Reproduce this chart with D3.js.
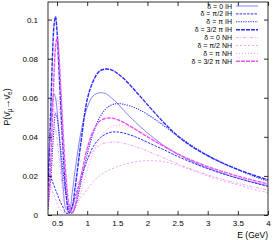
<!DOCTYPE html>
<html>
<head>
<meta charset="utf-8">
<script src="https://cdn.jsdelivr.net/npm/d3@7"></script>
<style>
  body { margin: 0; background: #fff; }
  text { font-family: "Liberation Sans", Arial, sans-serif; }
</style>
</head>
<body>
<svg id="canvas"></svg>
<script>
// Energy grid (GeV)
var energy = [0.35, 0.4, 0.425, 0.45, 0.475, 0.5, 0.525, 0.55, 0.6, 0.65, 0.7, 0.75, 0.8, 0.9, 1.0,
  1.1, 1.2, 1.3, 1.4, 1.5, 1.6, 1.8, 2.0, 2.25, 2.5, 2.75, 3.0, 3.25, 3.5, 3.75, 4.0];

// Probabilities
var ih0 = [0.020, 0.048, 0.057, 0.062, 0.060, 0.054, 0.045, 0.035, 0.015, 0.003, 0.002, 0.011, 0.023, 0.043, 0.055,
  0.0610, 0.0625, 0.0622, 0.0600, 0.0572, 0.0538, 0.0475, 0.0420, 0.0360, 0.0312, 0.0272, 0.0240, 0.0212, 0.0188, 0.0168, 0.0150];
var ihHalfPi = [0.022, 0.019, 0.017, 0.015, 0.013, 0.011, 0.009, 0.007, 0.004, 0.001, 0.001, 0.004, 0.009, 0.019, 0.028,
  0.035, 0.039, 0.0413, 0.0424, 0.0425, 0.0420, 0.0400, 0.0372, 0.0337, 0.0300, 0.0267, 0.0237, 0.0211, 0.0188, 0.0166, 0.0146];
var ihPi = [0.003, 0.020, 0.033, 0.045, 0.052, 0.050, 0.044, 0.037, 0.022, 0.010, 0.003, 0.001, 0.004, 0.017, 0.031,
  0.042, 0.0495, 0.0540, 0.0563, 0.0570, 0.0567, 0.0548, 0.0515, 0.0462, 0.0405, 0.0352, 0.0305, 0.0266, 0.0232, 0.0200, 0.0173];
var ih3HalfPi = [0.012, 0.058, 0.082, 0.097, 0.1015, 0.094, 0.079, 0.063, 0.033, 0.011, 0.001, 0.004, 0.014, 0.038, 0.059,
  0.0685, 0.0735, 0.0747, 0.0743, 0.0725, 0.0700, 0.0635, 0.0565, 0.0480, 0.0405, 0.0348, 0.0303, 0.0265, 0.0233, 0.0205, 0.0180];
var nh0 = [0.028, 0.045, 0.048, 0.047, 0.044, 0.039, 0.032, 0.025, 0.011, 0.003, 0.002, 0.006, 0.012, 0.021, 0.028,
  0.0328, 0.0355, 0.0368, 0.0373, 0.0373, 0.0367, 0.0350, 0.0327, 0.0295, 0.0262, 0.0232, 0.0205, 0.0182, 0.0162, 0.0144, 0.0128];
var nhHalfPi = [0.020, 0.015, 0.012, 0.010, 0.008, 0.006, 0.004, 0.003, 0.0015, 0.001, 0.0015, 0.003, 0.005, 0.009, 0.013,
  0.017, 0.020, 0.022, 0.0235, 0.0248, 0.0258, 0.0272, 0.0278, 0.0274, 0.0255, 0.0228, 0.0200, 0.0175, 0.0154, 0.0132, 0.0114];
var nhPi = [0.008, 0.030, 0.042, 0.052, 0.058, 0.060, 0.057, 0.051, 0.033, 0.015, 0.004, 0.001, 0.003, 0.012, 0.023,
  0.032, 0.0390, 0.0430, 0.0452, 0.0460, 0.0458, 0.0438, 0.0405, 0.0357, 0.0312, 0.0275, 0.0243, 0.0216, 0.0192, 0.0172, 0.0154];
var nh3HalfPi = [0.004, 0.030, 0.052, 0.072, 0.086, 0.0905, 0.085, 0.072, 0.043, 0.019, 0.005, 0.001, 0.005, 0.020, 0.034,
  0.0430, 0.0478, 0.0494, 0.0496, 0.0488, 0.0474, 0.0438, 0.0400, 0.0355, 0.0313, 0.0278, 0.0248, 0.0222, 0.0199, 0.0178, 0.0160];

var seriesNames = ['δ = 0 IH', 'δ = π/2 IH', 'δ = π IH', 'δ = 3/2 π IH',
  'δ = 0 NH', 'δ = π/2 NH', 'δ = π NH', 'δ = 3/2 π NH'];
var seriesValues = [ih0, ihHalfPi, ihPi, ih3HalfPi, nh0, nhHalfPi, nhPi, nh3HalfPi];

var xTicks = [0.5, 1, 1.5, 2, 2.5, 3, 3.5, 4];
var yTicks = [0, 0.02, 0.04, 0.06, 0.08, 0.1];

// Line styles per series
var blue = '#2a2aff';
var lightBlue = '#6666ff';
var pink = '#ee55ee';
var lightPink = '#f08cf0';
var styles = [
  { color: lightBlue, width: 0.8, dash: null },
  { color: blue, width: 1, dash: '2.5,1.2' },
  { color: blue, width: 1.1, dash: '1.2,1.2' },
  { color: blue, width: 1.4, dash: '4,1' },
  { color: lightPink, width: 0.8, dash: '3,1.5,1,1.5' },
  { color: lightPink, width: 0.8, dash: '2,2' },
  { color: lightPink, width: 0.9, dash: '1,2' },
  { color: pink, width: 1.4, dash: '4,1' }
];

var canvasWidth = 280;
var canvasHeight = 240;
var plot = { left: 48, right: 268, top: 2, bottom: 215 };

var svg = d3.select('#canvas')
  .attr('width', canvasWidth)
  .attr('height', canvasHeight);

var x = d3.scaleLinear().domain([0.35, 4]).range([plot.left, plot.right]);
var y = d3.scaleLinear().domain([0, 0.109]).range([plot.bottom, plot.top]);

svg.append('clipPath').attr('id', 'clip')
  .append('rect')
  .attr('x', plot.left).attr('y', plot.top)
  .attr('width', plot.right - plot.left).attr('height', plot.bottom - plot.top);

// Curves
var line = d3.line()
  .x(function(d) { return x(d[0]); })
  .y(function(d) { return y(d[1]); })
  .curve(d3.curveCatmullRom.alpha(0.5));

var curves = svg.append('g').attr('clip-path', 'url(#clip)');
seriesValues.forEach(function(vals, i) {
  var pts = energy.map(function(e, j) { return [e, vals[j]]; });
  curves.append('path')
    .attr('d', line(pts))
    .attr('fill', 'none')
    .attr('stroke', styles[i].color)
    .attr('stroke-width', styles[i].width)
    .attr('stroke-dasharray', styles[i].dash);
});

// Axes (ticks inside, mirrored)
function styleAxis(g) {
  g.select('.domain').remove();
  g.selectAll('line').attr('stroke', '#000').attr('stroke-width', 0.8);
  g.selectAll('text').attr('font-size', 8).attr('fill', '#000');
}

svg.append('g')
  .attr('transform', 'translate(0,' + plot.bottom + ')')
  .call(d3.axisBottom(x).tickValues(xTicks).tickSize(-4).tickPadding(4)
    .tickFormat(function(d) { return String(d); }))
  .call(styleAxis)
  .selectAll('text').attr('dy', '0.85em');

svg.append('g')
  .attr('transform', 'translate(0,' + plot.top + ')')
  .call(d3.axisTop(x).tickValues(xTicks).tickSize(-4).tickFormat(''))
  .call(styleAxis);

svg.append('g')
  .attr('transform', 'translate(' + plot.left + ',0)')
  .call(d3.axisLeft(y).tickValues(yTicks).tickSize(-4).tickPadding(10)
    .tickFormat(function(d) { return String(d); }))
  .call(styleAxis);

svg.append('g')
  .attr('transform', 'translate(' + plot.right + ',0)')
  .call(d3.axisRight(y).tickValues(yTicks).tickSize(-4).tickFormat(''))
  .call(styleAxis);

// Frame
svg.append('rect')
  .attr('x', plot.left).attr('y', plot.top)
  .attr('width', plot.right - plot.left).attr('height', plot.bottom - plot.top)
  .attr('fill', 'none').attr('stroke', '#000').attr('stroke-width', 0.8);

// Axis labels
svg.append('text')
  .attr('x', plot.right).attr('y', 238)
  .attr('text-anchor', 'end').attr('font-size', 8.5)
  .text('E (GeV)');

var yLabel = svg.append('text')
  .attr('transform', 'translate(10,107) rotate(-90)')
  .attr('text-anchor', 'middle').attr('font-size', 9);
yLabel.append('tspan').text('P(ν\u0304');
yLabel.append('tspan').attr('font-size', 6.5).attr('dy', 2).text('μ');
yLabel.append('tspan').attr('dy', -2).text('→ν\u0304');
yLabel.append('tspan').attr('font-size', 6.5).attr('dy', 2).text('e');
yLabel.append('tspan').attr('dy', -2).text(')');

// Legend
var legend = svg.append('g');
seriesNames.forEach(function(name, i) {
  var ly = 6 + i * 7.9;
  legend.append('text')
    .attr('x', 232).attr('y', ly + 2.5)
    .attr('text-anchor', 'end').attr('font-size', 7)
    .text(name);
  legend.append('line')
    .attr('x1', 236).attr('x2', 258)
    .attr('y1', ly).attr('y2', ly)
    .attr('stroke', styles[i].color)
    .attr('stroke-width', styles[i].width)
    .attr('stroke-dasharray', styles[i].dash);
});
</script>
</body>
</html>
